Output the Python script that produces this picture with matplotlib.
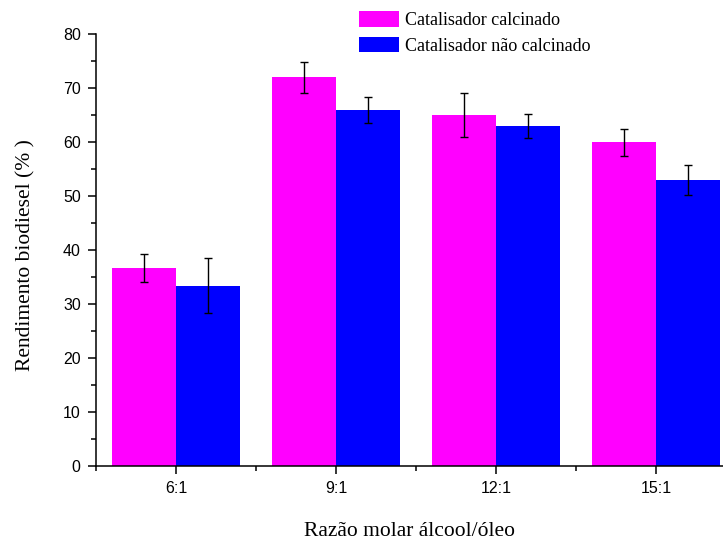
import matplotlib
import numpy as np

matplotlib.use("Agg")
import matplotlib.pyplot as plt
from matplotlib.ticker import MultipleLocator

categories = ["6:1", "9:1", "12:1", "15:1"]
calcinado = [36.7, 72.0, 65.0, 60.0]
calcinado_err = [2.6, 2.9, 4.1, 2.5]
nao_calcinado = [33.4, 66.0, 63.0, 53.0]
nao_calcinado_err = [5.1, 2.4, 2.2, 2.8]

serif = ["Liberation Serif", "DejaVu Serif"]
sans = ["Liberation Sans", "DejaVu Sans"]

fig = plt.figure(figsize=(7.23, 5.42), dpi=100)
ax = fig.add_axes([96 / 723, 1 - 466 / 542, 640 / 723, 432 / 542])

x = np.arange(1, len(categories) + 1)
width = 0.4
err_kw = dict(ecolor="black", elinewidth=1.0, capsize=3, capthick=1.0)
ax.bar(x - width / 2, calcinado, width, yerr=calcinado_err, color="#ff00ff",
       label="Catalisador calcinado", error_kw=err_kw, zorder=2)
ax.bar(x + width / 2, nao_calcinado, width, yerr=nao_calcinado_err, color="#0000ff",
       label="Catalisador não calcinado", error_kw=err_kw, zorder=2)

ax.set_xlim(0.5, 4.5)
ax.set_ylim(0, 80)
ax.set_xticks(x)
ax.set_xticklabels(categories)
ax.xaxis.set_minor_locator(MultipleLocator(1, offset=0.5))
ax.yaxis.set_major_locator(MultipleLocator(10))
ax.yaxis.set_minor_locator(MultipleLocator(5))

for side in ("top", "right"):
    ax.spines[side].set_visible(False)
for side in ("left", "bottom"):
    ax.spines[side].set_linewidth(1.1)

ax.tick_params(which="both", direction="out", width=1.1)
ax.tick_params(which="major", length=6, labelsize=11.5, pad=5)
ax.tick_params(which="minor", length=3.5)
for lbl in ax.get_xticklabels() + ax.get_yticklabels():
    lbl.set_fontfamily(sans)

# axis titles placed in figure coordinates
fig.text(26 / 723, 1 - 255 / 542, "Rendimento biodiesel (% )", rotation=90,
         fontsize=15.5, family=serif, ha="center", va="center")
fig.text(410 / 723, 1 - 532 / 542, "Razão molar álcool/óleo",
         fontsize=15.5, family=serif, ha="center", va="center")

fig.legend(loc="upper left", bbox_to_anchor=(359 / 723, 1 - 11 / 542),
           frameon=False, prop={"family": serif, "size": 13},
           handlelength=2.2, handleheight=0.95, handletextpad=0.35,
           labelspacing=0.42, borderpad=0, borderaxespad=0)

fig.savefig("out.png", dpi=100)
plt.close(fig)
